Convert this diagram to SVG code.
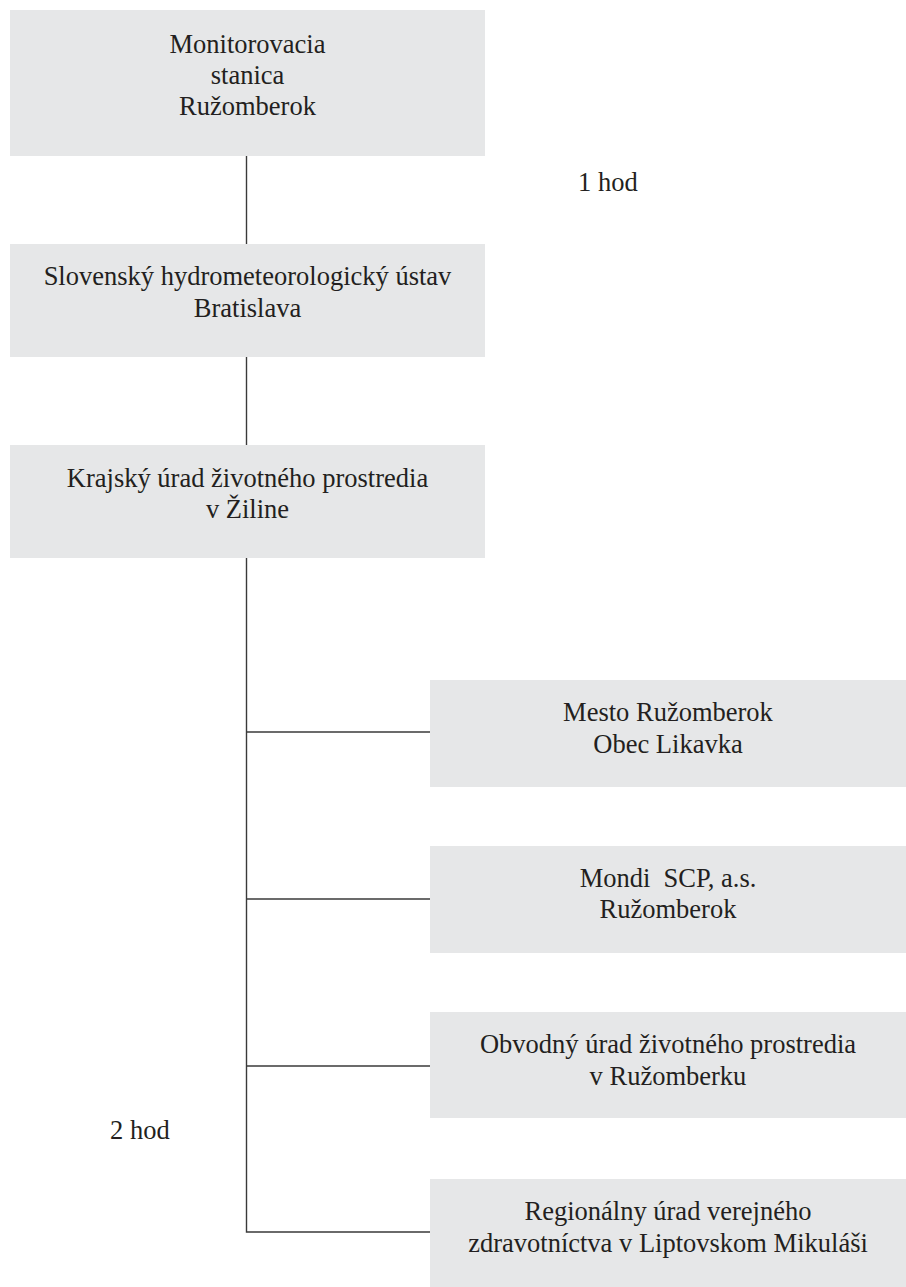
<svg xmlns="http://www.w3.org/2000/svg" width="906" height="1287" viewBox="0 0 906 1287">
<style>
.box{fill:#e6e7e8;stroke:none}
.t{font-family:"Liberation Serif","Times New Roman",serif;font-size:26.5px;fill:#231f20;text-anchor:middle;white-space:pre}
.lbl{font-family:"Liberation Serif","Times New Roman",serif;font-size:26.5px;fill:#231f20}
.c{stroke:#3a3a3a;stroke-width:1.4;fill:none}
</style>
<rect width="906" height="1287" fill="#ffffff"/>
<g id="connectors">
<line class="c" x1="246.5" y1="156" x2="246.5" y2="244"/>
<line class="c" x1="246.5" y1="357" x2="246.5" y2="445"/>
<polyline class="c" points="246.5,558 246.5,1232 430,1232"/>
<line class="c" x1="246.5" y1="732" x2="430" y2="732"/>
<line class="c" x1="246.5" y1="899" x2="430" y2="899"/>
<line class="c" x1="246.5" y1="1066" x2="430" y2="1066"/>
</g>
<g id="node-monitorovacia">
<rect class="box" x="10" y="10" width="475" height="146"/>
<text class="t" x="247.5" y="53">Monitorovacia</text>
<text class="t" x="247.5" y="84">stanica</text>
<text class="t" x="247.5" y="115">Ružomberok</text>
</g>
<g id="node-shmu">
<rect class="box" x="10" y="244" width="475" height="113"/>
<text class="t" x="247.5" y="285">Slovenský hydrometeorologický ústav</text>
<text class="t" x="247.5" y="317">Bratislava</text>
</g>
<g id="node-kuzp">
<rect class="box" x="10" y="445" width="475" height="113"/>
<text class="t" x="247.5" y="487">Krajský úrad životného prostredia</text>
<text class="t" x="247.5" y="518">v Žiline</text>
</g>
<g id="node-mesto">
<rect class="box" x="430" y="680" width="476" height="107"/>
<text class="t" x="668" y="721">Mesto Ružomberok</text>
<text class="t" x="668" y="753">Obec Likavka</text>
</g>
<g id="node-mondi">
<rect class="box" x="430" y="846" width="476" height="107"/>
<text class="t" x="668" y="887" xml:space="preserve">Mondi  SCP, a.s.</text>
<text class="t" x="668" y="918">Ružomberok</text>
</g>
<g id="node-obvodny">
<rect class="box" x="430" y="1012" width="476" height="106"/>
<text class="t" x="668" y="1053">Obvodný úrad životného prostredia</text>
<text class="t" x="668" y="1085">v Ružomberku</text>
</g>
<g id="node-regionalny">
<rect class="box" x="430" y="1179" width="476" height="108"/>
<text class="t" x="668" y="1220">Regionálny úrad verejného</text>
<text class="t" x="668" y="1252">zdravotníctva v Liptovskom Mikuláši</text>
</g>
<g id="labels">
<text class="lbl" x="578" y="191">1 hod</text>
<text class="lbl" x="110" y="1139">2 hod</text>
</g>
</svg>
